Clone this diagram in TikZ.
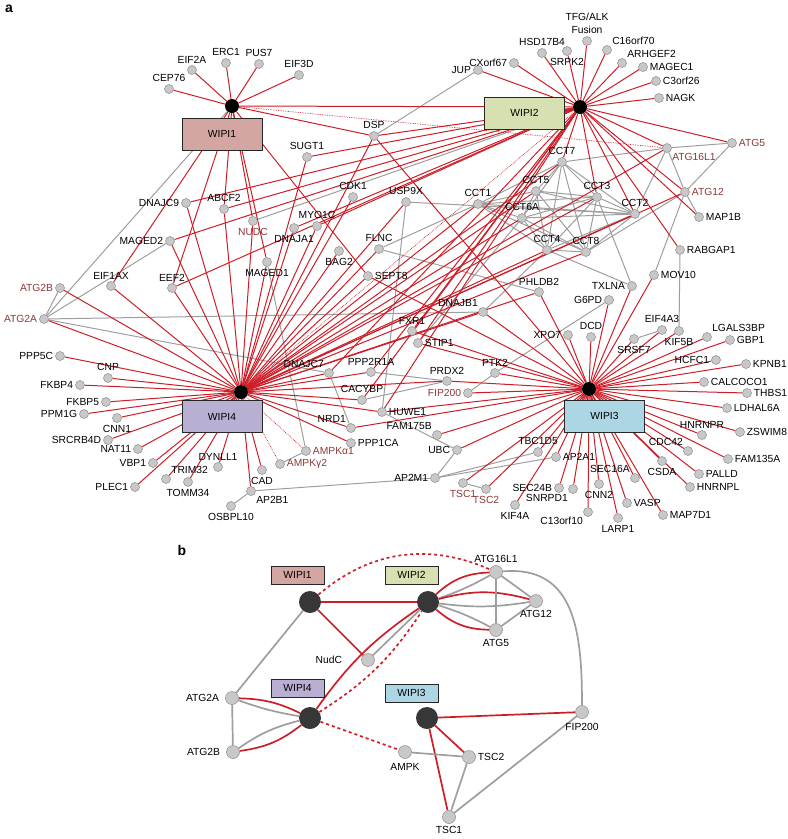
\documentclass[tikz,border=0pt]{standalone}
\usepackage{fontspec}
\setmainfont{Liberation Sans}
\usetikzlibrary{backgrounds}
\definecolor{edgered}{RGB}{205,30,40}
\definecolor{edgegray}{RGB}{158,158,158}
\definecolor{protfill}{RGB}{200,200,200}
\definecolor{protrim}{RGB}{140,140,140}
\definecolor{atgbrown}{RGB}{140,55,55}
\definecolor{wipione}{RGB}{211,166,162}
\definecolor{wipitwo}{RGB}{214,224,176}
\definecolor{wipithree}{RGB}{173,214,228}
\definecolor{wipifour}{RGB}{185,175,210}
\definecolor{hubdark}{RGB}{55,55,55}
\tikzset{
  lbl/.style={font=\fontsize{10.3}{13}\selectfont,inner sep=1pt,label distance=1pt},
  prot/.style={circle,fill=protfill,draw=protrim,line width=0.5pt,minimum size=9pt,inner sep=0pt},
  bigprot/.style={prot,minimum size=13pt},
  hub/.style={circle,fill=black,minimum size=14pt,inner sep=0pt},
  bighub/.style={circle,fill=hubdark,minimum size=22pt,inner sep=0pt},
  wbox/.style={draw=black!85,line width=0.9pt,minimum width=80pt,minimum height=32pt,font=\fontsize{10.3}{12}\selectfont},
  smallbox/.style={wbox,minimum width=53pt,minimum height=18pt},
  redge/.style={draw=edgered,line width=1pt},
  gedge/.style={draw=edgegray,line width=1pt},
  dedge/.style={draw=edgered,line width=0.7pt,densely dotted},
  bredge/.style={draw=edgered,line width=1.7pt},
  bgedge/.style={draw=edgegray,line width=1.7pt},
  bdedge/.style={draw=edgered,line width=1.7pt,dash pattern=on 3pt off 3pt},
}
\begin{document}
\begin{tikzpicture}[x=1pt,y=-1pt]
\useasboundingbox (0,0) rectangle (788,839);
\node[font=\bfseries\fontsize{14}{14}\selectfont] (pa) at (9,9) {a};
\node[font=\bfseries\fontsize{14}{14}\selectfont] (pb) at (182,550) {b};

% panel a: hubs and boxes
\node[wbox,fill=wipione] (b1) at (222,134) {WIPI1};
\node[wbox,fill=wipitwo] (b2) at (524.5,113) {WIPI2};
\node[wbox,fill=wipifour] (b4) at (222,416.5) {WIPI4};
\node[wbox,fill=wipithree] (b3) at (604.5,416) {WIPI3};
\node[hub] (w1) at (232,106) {};
\node[hub] (w2) at (580,107) {};
\node[hub] (w4) at (241,392) {};
\node[hub] (w3) at (589,389) {};

% panel a: proteins
\foreach \n/\x/\y/\a/\t in {cep/169/89/above/CEP76, eifa/192/70/above/EIF2A, erc/226/63/above/ERC1,
  pus/259/64/above/PUS7, eifd/299/75/above/EIF3D, dsp/374/136/above/DSP, sugt/307/157/above/SUGT1,
  cdk/353/197/above/CDK1, dnajc9/186/203/left/DNAJC9, abcf/224/209/above/ABCF2, myo/317/226/above/MYO1C,
  dnaja/294/228/below/DNAJA1, maged2/170/241/left/MAGED2, jup/478/70/left/JUP,
  cxorf/514/63/left/CXorf67, hsd/542/53/above/HSD17B4, srpk/567/51/below/SRPK2,
  c16/607/50/above right/C16orf70, arhgef/622/63/above right/ARHGEF2, magec/643/67/right/MAGEC1,
  c3orf/656/81/right/C3orf26, nagk/659/98/right/NAGK, cct7/562/162/above/CCT7, cct5/536/191/above/CCT5,
  cct3/597/197/above/CCT3, cct1/478/204/above/CCT1, usp/406/202/above/USP9X, cct6/522/218/above/CCT6A,
  cct2/635/214/above/CCT2, map1b/699/217/right/MAP1B, eifax/111/286/above/EIF1AX, eef/172/288/above/EEF2,
  maged1/267/262/below/MAGED1, bag/339/251/below/BAG2, flnc/379/249/above/FLNC, sept/368/276/right/SEPT8,
  ppp5c/60/356/left/PPP5C, cnp/108/378/above/CNP, fkbp4/80/385/left/FKBP4, fkbp5/106/402/left/FKBP5,
  ppm/84/414/left/PPM1G, cnn1/117/418/below/CNN1, srcrb/108/440/left/SRCRB4D, nat/138/449/left/NAT11,
  vbp/153/463/left/VBP1, trim/166/479/above right/TRIM32, tomm/188/482/below/TOMM34, plec/135/487/left/PLEC1,
  dynll/218/467/above/DYNLL1, cad/262/470/below/CAD, ap2b1/251/491/below right/AP2B1, osbpl/231/506/below/OSBPL10,
  dnajc7/329/373/above left/DNAJC7, ppp2/371/372/above/PPP2R1A, cacybp/362/400/above/CACYBP,
  huwe/382/412/right/HUWE1, nrd/351/428/above left/NRD1, ppp1/351/443/right/PPP1CA,
  dnajb1/483/312/above left/DNAJB1, fxr/412/331/above/FXR1, stip/418/343/right/STIP1, ptk/495/373/above/PTK2,
  prdx/447/381/above/PRDX2, fam175/437/435/above left/FAM175B, ubc/457/450/left/UBC, ap2m1/435/478/left/AP2M1,
  tbc/538/452/above/TBC1D5, cct4/547/250/above/CCT4, cct8/586/252/above/CCT8, rabgap/680/250/right/RABGAP1,
  mov/654/275/right/MOV10, phldb/539/292/above/PHLDB2, txlna/632/286/left/TXLNA, g6pd/609/300/left/G6PD,
  xpo/568/335/left/XPO7, dcd/591/337/above/DCD, eif4a3/662/330/above/EIF4A3, srsf/634/339/below/SRSF7,
  kif5b/679/331/below/KIF5B, lgals/707/337/above right/LGALS3BP, gbp/730/340/right/GBP1, hcfc/716/360/left/HCFC1,
  kpnb/746/364/right/KPNB1, calco/704/382/right/CALCOCO1, thbs/747/393/right/THBS1, ldh/727/408/right/LDHAL6A,
  zswim/740/432/right/ZSWIM8, hnrnpr/702/435/above/HNRNPR, cdc/688/451/above left/CDC42,
  fam135/728/459/right/FAM135A, ap2a1/556/457/right/AP2A1, csda/662/461/below/CSDA, palld/699/474/right/PALLD,
  hnrnpl/690/487/right/HNRNPL, sec16/635/478/above left/SEC16A, sec24/559/488/left/SEC24B,
  snrp/573/489/below left/SNRPD1, cnn2/599/484/below/CNN2, kif4a/515/505/below/KIF4A, c13/588/512/below left/C13orf10,
  larp/618/518/below/LARP1, vasp/627/503/right/VASP, map7/663/515/right/MAP7D1}
  \node[prot,label={[lbl]\a:{\t}}] (\n) at (\x,\y) {};
\foreach \n/\x/\y/\a/\t in {nudc/253/221/below/NUDC, atg5/732/143/right/ATG5, atg16/667/148/below right/ATG16L1,
  atg12/685/192/right/ATG12, atg2b/60/288/left/ATG2B, atg2a/44/319/left/ATG2A, ampka/306/451/right/AMPKα1,
  ampkg/280/464/right/AMPKγ2, fip/468/393/left/FIP200, tsc1/463/483/below/TSC1, tsc2/486/489/below/TSC2}
  \node[prot,label={[lbl,text=atgbrown]\a:{\t}}] (\n) at (\x,\y) {};
\node[prot,label={[lbl,align=center]above:TFG/ALK\\Fusion}] (tfg) at (587,41) {};

% panel b
\node[smallbox,fill=wipione] (bb1) at (297.5,575) {WIPI1};
\node[smallbox,fill=wipitwo] (bb2) at (411.5,575) {WIPI2};
\node[smallbox,fill=wipifour] (bb4) at (297.5,688) {WIPI4};
\node[smallbox,fill=wipithree] (bb3) at (411.5,693) {WIPI3};
\node[bighub] (h1) at (310,602) {};
\node[bighub] (h2) at (428,602) {};
\node[bighub] (h4) at (310,718) {};
\node[bighub] (h3) at (427,718) {};
\node[bigprot,label={[lbl]above:ATG16L1}] (batg16) at (496,572) {};
\node[bigprot,label={[lbl]below:ATG12}] (batg12) at (536,601) {};
\node[bigprot,label={[lbl]below:ATG5}] (batg5) at (496,630) {};
\node[bigprot,label={[lbl,label distance=18pt]left:NudC}] (bnudc) at (368,660) {};
\node[bigprot,label={[lbl,label distance=5pt]left:ATG2A}] (batg2a) at (232,698) {};
\node[bigprot,label={[lbl,label distance=5pt]left:ATG2B}] (batg2b) at (233,752) {};
\node[bigprot,label={[lbl,label distance=3pt]below:FIP200}] (bfip) at (582,712) {};
\node[bigprot,label={[lbl,label distance=3pt]below:AMPK}] (bampk) at (405,752) {};
\node[bigprot,label={[lbl]right:TSC2}] (btsc2) at (469,757) {};
\node[bigprot,label={[lbl]below:TSC1}] (btsc1) at (449,817) {};

\begin{scope}[on background layer]
% panel a: gray links
\foreach \s/\t in {w1/atg2a, atg2a/atg2b, atg2a/maged2, atg2a/dnajb1, atg2a/dnajc7, dnajc7/nrd, ppp2/prdx,
  cacybp/prdx, huwe/ubc, huwe/usp, flnc/phldb, flnc/cct1, stip/cct6, fip/ptk, ptk/g6pd, nudc/w2,
  maged1/ampka, ampka/ampkg, ap2b1/ap2m1, ap2b1/osbpl, ap2m1/ubc, ap2m1/ap2a1, ap2m1/tbc, tsc1/tsc2,
  cct4/txlna, txlna/cct3, rabgap/kif5b, eif4a3/srsf, jup/dsp, usp/cct2, atg16/cct7, atg16/cct2,
  atg16/atg5, atg16/atg12, atg12/atg5, atg12/map1b, atg12/mov, atg12/cct8, dnajb1/cct4}
  \draw[gedge] (\s) -- (\t);
\foreach \a [count=\i] in {cct7,cct5,cct3,cct1,cct6,cct2,cct4,cct8}
  \foreach \b [count=\j] in {cct7,cct5,cct3,cct1,cct6,cct2,cct4,cct8}
    {\ifnum\j>\i \draw[gedge] (\a) -- (\b); \fi}
% panel a: red links
\foreach \t in {cep,eifa,erc,pus,eifd,dsp,nudc,sept,eifax,eef,abcf,maged1,w2}
  \draw[redge] (w1) -- (\t);
\foreach \t in {jup,cxorf,hsd,srpk,tfg,c16,arhgef,magec,c3orf,nagk,atg5,atg16,atg12,map1b,rabgap,cct3,
  cct2,cct7,dsp,dnajc9,abcf,maged2,sugt,myo,dnaja,eef,dnajc7,ppp2,cacybp,stip,fxr,huwe}
  \draw[redge] (w2) -- (\t);
\foreach \t in {ppp5c,cnp,fkbp4,fkbp5,ppm,cnn1,srcrb,nat,vbp,trim,tomm,plec,dynll,cad,ap2b1,atg2a,atg2b,
  eifax,eef,maged2,dnajc9,abcf,nudc,myo,dnaja,maged1,sugt,cdk,bag,usp,cct1,cct5,cct7,cct6,cct3,cct4,
  cct8,cct2,atg16,atg12,flnc,sept,dsp,dnajb1,phldb,dnajc7,ppp2,cacybp,huwe,nrd,ppp1,prdx}
  \draw[redge] (w4) -- (\t);
\foreach \t in {eif4a3,srsf,kif5b,lgals,gbp,hcfc,kpnb,calco,thbs,ldh,zswim,hnrnpr,cdc,fam135,palld,
  hnrnpl,csda,sec16,map7,vasp,larp,c13,cnn2,snrp,sec24,kif4a,tsc2,tsc1,ap2a1,tbc,ubc,fam175,nrd,huwe,
  fip,prdx,ptk,stip,fxr,dnajb1,phldb,xpo,dcd,g6pd,txlna,mov,dsp,sept}
  \draw[redge] (w3) -- (\t);
\draw[dedge] (w1) -- (atg16);
\draw[dedge] (w2) -- (w4);
\draw[dedge] (w4) -- (ampka);
\draw[dedge] (w4) -- (ampkg);
% panel b
\draw[bdedge] (h1) to[bend left=32] (batg16);
\draw[bredge] (h1) -- (h2);
\draw[bredge] (h1) -- (bnudc);
\draw[bgedge] (h1) -- (batg2a);
\draw[bredge] (h2) to[bend left=20] (batg16);
\draw[bgedge] (h2) to[bend right=5] (batg16);
\draw[bredge] (h2) to[bend left=15] (batg12);
\draw[bgedge] (h2) to[bend right=8] (batg12);
\draw[bredge] (h2) to[bend right=20] (batg5);
\draw[bgedge] (h2) to[bend left=5] (batg5);
\draw[bgedge] (batg16) -- (batg12);
\draw[bgedge] (batg16) -- (batg5);
\draw[bgedge] (batg12) -- (batg5);
\draw[bgedge] (batg16) to[out=5,in=90,looseness=1.2] (bfip);
\draw[bgedge] (bnudc) -- (h2);
\draw[bredge] (h4) to[bend left=10] (h2);
\draw[bdedge] (h4) to[bend right=12] (h2);
\draw[bredge] (batg2a) to[bend left=12] (h4);
\draw[bgedge] (batg2a) to[bend right=5] (h4);
\draw[bredge] (batg2b) to[bend right=15] (h4);
\draw[bgedge] (batg2b) to[bend left=10] (h4);
\draw[bgedge] (batg2a) -- (batg2b);
\draw[bdedge] (h4) -- (bampk);
\draw[bredge] (h3) -- (bfip);
\draw[bredge] (h3) -- (btsc2);
\draw[bredge] (h3) -- (btsc1);
\draw[bgedge] (bampk) -- (btsc2);
\draw[bgedge] (btsc2) -- (btsc1);
\draw[bgedge] (btsc1) -- (bfip);
\end{scope}
\end{tikzpicture}
\end{document}
